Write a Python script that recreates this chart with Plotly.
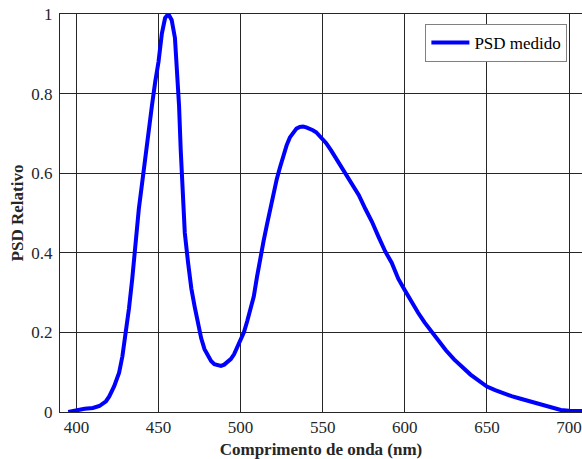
import plotly.graph_objects as go

# Measured relative spectral power distribution of a white LED
wavelength_nm = [
    395, 400, 405, 410, 414, 418, 420, 423, 426, 428, 430, 432, 434, 436, 438,
    440, 442, 444, 446, 448, 450, 452, 454, 456, 458, 460, 461.5, 462.5, 463.5,
    464.5, 466, 468, 470, 472, 474, 476, 478, 480, 482, 484, 486, 488, 490, 492,
    494, 496, 498, 500, 502, 504, 506, 508, 510, 512, 514, 516, 518, 520, 522,
    524, 526, 528, 530, 532, 534, 536, 538, 540, 542, 544, 546, 548, 550, 552,
    555, 558, 561, 564, 568, 572, 576, 580, 584, 588, 592, 596, 600, 604, 608,
    612, 616, 620, 625, 630, 635, 640, 645, 650, 655, 660, 665, 670, 675, 680,
    685, 690, 695, 700, 705, 710,
]
psd_relative = [
    0.0, 0.005, 0.008, 0.010, 0.015, 0.027, 0.039, 0.065, 0.099, 0.140, 0.195,
    0.260, 0.335, 0.430, 0.510, 0.575, 0.645, 0.705, 0.770, 0.830, 0.880, 0.950,
    0.990, 1.000, 0.985, 0.940, 0.850, 0.770, 0.660, 0.560, 0.450, 0.375, 0.310,
    0.265, 0.225, 0.185, 0.158, 0.142, 0.128, 0.120, 0.117, 0.116, 0.119, 0.125,
    0.133, 0.145, 0.162, 0.180, 0.200, 0.228, 0.258, 0.290, 0.340, 0.390, 0.430,
    0.470, 0.510, 0.550, 0.585, 0.615, 0.645, 0.670, 0.690, 0.703, 0.712, 0.716,
    0.717, 0.715, 0.712, 0.708, 0.703, 0.695, 0.686, 0.676, 0.658, 0.638, 0.620,
    0.600, 0.571, 0.545, 0.510, 0.478, 0.440, 0.404, 0.375, 0.335, 0.306, 0.277,
    0.250, 0.225, 0.203, 0.181, 0.155, 0.132, 0.112, 0.094, 0.079, 0.064, 0.055,
    0.047, 0.040, 0.034, 0.028, 0.021, 0.016, 0.010, 0.005, 0.003, 0.002, 0.002,
]

x_ticks = [400, 450, 500, 550, 600, 650, 700]
y_ticks = [0, 0.2, 0.4, 0.6, 0.8, 1]
y_tick_text = ["0", "0.2", "0.4", "0.6", "0.8", "1"]

serif = "Liberation Serif, Times New Roman, serif"

fig = go.Figure()
fig.add_trace(go.Scatter(
    x=wavelength_nm,
    y=psd_relative,
    mode="lines",
    name="PSD medido",
    line=dict(color="#0000FF", width=4),
))

axis_common = dict(
    showgrid=True,
    gridcolor="#262626",
    gridwidth=1,
    showline=True,
    linecolor="#262626",
    linewidth=1,
    zeroline=False,
    ticks="",
    tickfont=dict(family=serif, size=17, color="#262626"),
)

fig.update_xaxes(
    **axis_common,
    range=[390, 707.9],
    tickvals=x_ticks,
    mirror=True,
    title=dict(text="<b>Comprimento de onda (nm)</b>",
               font=dict(family=serif, size=17, color="#262626"),
               standoff=6),
)
fig.update_yaxes(
    **axis_common,
    range=[0, 1],
    tickvals=y_ticks,
    ticktext=y_tick_text,
    mirror=False,
    ticklabelstandoff=3,
    title=dict(text="<b>PSD Relativo</b>",
               font=dict(family=serif, size=17, color="#262626"),
               standoff=3),
)

fig.update_layout(
    width=582,
    height=459,
    margin=dict(l=60, r=0, t=14, b=47),
    paper_bgcolor="white",
    plot_bgcolor="white",
    font=dict(family=serif, size=17, color="#262626"),
    showlegend=True,
    legend=dict(
        x=0.972, y=0.975,
        xanchor="right", yanchor="top",
        bgcolor="white",
        bordercolor="#808080",
        borderwidth=1,
        font=dict(family=serif, size=17, color="#000000"),
        itemwidth=38,
        tracegroupgap=0,
    ),
)

fig.write_html("out.html")
